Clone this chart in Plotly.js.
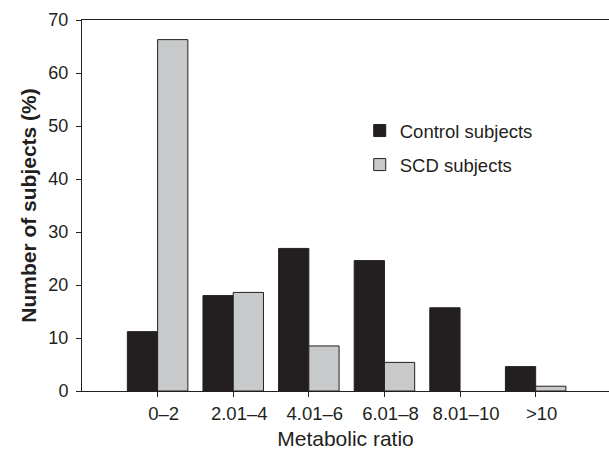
<!DOCTYPE html>
<html>
<head>
<meta charset="utf-8">
<script src="https://cdn.plot.ly/plotly-3.0.1.min.js"></script>
<style>
  html, body { margin: 0; padding: 0; background: #ffffff; }
  #chart { width: 609px; height: 450px; }
</style>
</head>
<body>
<div id="chart"></div>
<script>
const categories = ["0\u20132", "2.01\u20134", "4.01\u20136", "6.01\u20138", "8.01\u201310", ">10"];
const controlValues = [11.2, 18.0, 26.9, 24.6, 15.7, 4.6];
const scdValues = [66.3, 18.6, 8.5, 5.4, null, 0.9];
const seriesNames = ["Control subjects", "SCD subjects"];
const yTickValues = [0, 10, 20, 30, 40, 50, 60, 70];

const ink = "#231f20";
const fontFamily = "'Liberation Sans', Arial, Helvetica, sans-serif";

const xIdx = categories.map((c, i) => i);

const traces = [
  {
    type: "bar",
    name: seriesNames[0],
    x: xIdx,
    y: controlValues,
    marker: { color: ink, line: { color: ink, width: 1 } },
    legendgroup: "a",
    hoverinfo: "skip"
  },
  {
    type: "bar",
    name: seriesNames[1],
    x: xIdx,
    y: scdValues,
    marker: { color: "#c8c9ca", line: { color: ink, width: 1 } },
    legendgroup: "b",
    hoverinfo: "skip"
  }
];

const layout = {
  width: 609,
  height: 450,
  margin: { l: 82, r: 0, t: 20, b: 59, pad: 0 },
  paper_bgcolor: "#ffffff",
  plot_bgcolor: "#ffffff",
  font: { family: fontFamily, color: ink, size: 18 },
  barmode: "group",
  bargap: 0.2,
  bargroupgap: 0,
  showlegend: true,
  legend: {
    x: 0.527, y: 0.752, xanchor: "left", yanchor: "top",
    font: { size: 18.5, color: ink, family: fontFamily },
    bgcolor: "rgba(0,0,0,0)",
    traceorder: "grouped",
    tracegroupgap: 7
  },
  xaxis: {
    range: [-1, 5.97],
    tickmode: "array",
    tickvals: xIdx,
    ticktext: categories,
    ticks: "outside",
    ticklen: 5,
    tickcolor: ink,
    tickwidth: 1,
    ticklabelshift: 6,
    ticklabelstandoff: 1,
    tickfont: { size: 18.5, color: ink },
    showline: true,
    linecolor: ink,
    linewidth: 1,
    mirror: true,
    showgrid: false,
    zeroline: false,
    fixedrange: true,
    title: { text: "Metabolic ratio", font: { size: 21, color: ink }, standoff: 15 }
  },
  yaxis: {
    range: [0, 70],
    tickmode: "array",
    tickvals: yTickValues,
    ticks: "outside",
    ticklen: 5,
    tickcolor: ink,
    tickwidth: 1,
    ticklabelstandoff: 4,
    tickfont: { size: 18, color: ink },
    showline: true,
    linecolor: ink,
    linewidth: 1,
    showgrid: false,
    zeroline: false,
    fixedrange: true,
    title: { text: "<b>Number of subjects (%)</b>", font: { size: 21, color: ink }, standoff: 6 }
  }
};

Plotly.newPlot("chart", traces, layout, { staticPlot: true, displayModeBar: false });
</script>
</body>
</html>
